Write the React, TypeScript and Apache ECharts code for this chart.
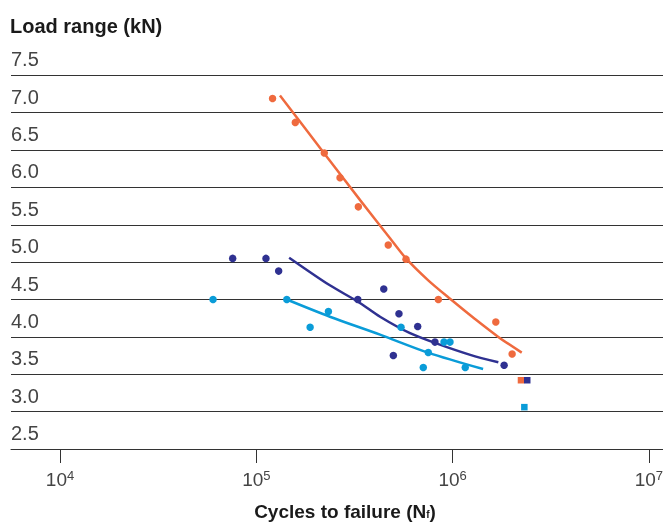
import React, { useEffect, useRef } from "react";
import * as echarts from "echarts";

// Cycles to failure (N) and load range (kN)
const orangeN = [1.21e5, 1.58e5, 2.22e5, 2.67e5, 3.31e5, 4.7e5, 5.79e5, 8.46e5, 1.66e6, 2.01e6];
const orangeLoad = [7.19, 6.87, 6.46, 6.13, 5.74, 5.23, 5.04, 4.5, 4.2, 3.77];
const navyN = [7.58e4, 1.12e5, 1.3e5, 3.29e5, 4.46e5, 5.33e5, 6.64e5, 4.99e5, 8.13e5, 1.83e6];
const navyLoad = [5.05, 5.05, 4.88, 4.5, 4.64, 4.31, 4.14, 3.75, 3.93, 3.62];
const cyanN = [6.02e4, 1.43e5, 2.33e5, 1.88e5, 5.46e5, 7.52e5, 7.09e5, 9.04e5, 9.7e5, 1.16e6];
const cyanLoad = [4.5, 4.5, 4.34, 4.13, 4.13, 3.79, 3.59, 3.93, 3.93, 3.59];

// fitted curves
const orangeFitN = [1.32e5, 2.21e5, 3.38e5, 4.8e5, 5.79e5, 7.49e5, 9.81e5, 1.3e6, 1.71e6, 2.25e6];
const orangeFitLoad = [7.23, 6.46, 5.83, 5.32, 5.05, 4.76, 4.5, 4.24, 4.0, 3.79];
const navyFitN = [1.47e5, 2.37e5, 3.3e5, 4.27e5, 6.07e5, 8.33e5, 1.23e6, 1.71e6];
const navyFitLoad = [5.06, 4.69, 4.47, 4.27, 4.05, 3.91, 3.76, 3.66];
const cyanFitN = [1.43e5, 2.37e5, 4.27e5, 7.49e5, 1.43e6];
const cyanFitLoad = [4.5, 4.27, 4.03, 3.79, 3.57];

// run-out squares
const orangeRunN = [2.23e6];
const orangeRunLoad = [3.42];
const navyRunN = [2.4e6];
const navyRunLoad = [3.42];
const cyanRunN = [2.32e6];
const cyanRunLoad = [3.06];

const xDecades = [4, 5, 6, 7];

const ORANGE = "#EF6A3E";
const NAVY = "#2F3191";
const CYAN = "#0A9CD8";
const FONT = '"Liberation Sans", Arial, Helvetica, sans-serif';

const pairs = (ns: number[], vs: number[]) => ns.map((n, i) => [Math.log10(n), vs[i]]);

export default function App() {
  const ref = useRef<HTMLDivElement>(null);
  useEffect(() => {
    if (!ref.current) return;
    const chart = echarts.init(ref.current, undefined, { renderer: "svg" });
    const scatter = (data: number[][], color: string, symbol = "circle", size = 7.5) => ({
      type: "scatter",
      data,
      symbol,
      symbolSize: size,
      itemStyle: { color, opacity: 1 },
      z: 3,
    });
    const fit = (data: number[][], color: string) => ({
      type: "line",
      data,
      smooth: 0.3,
      showSymbol: false,
      symbol: "none",
      lineStyle: { color, width: 2.5 },
      z: 2,
    });
    chart.setOption({
      animation: false,
      textStyle: { fontFamily: FONT },
      title: {
        text: "Load range (kN)",
        left: 10,
        top: 16,
        padding: 0,
        textStyle: { fontSize: 20, fontWeight: "bold", color: "#1a1a1a", fontFamily: FONT },
      },
      grid: { left: 11, right: 0, top: 75.3, bottom: 73, outerBoundsMode: "none", containLabel: false },
      xAxis: {
        type: "value",
        min: 3.7504,
        max: 7.0718,
        splitLine: { show: false },
        axisLine: { lineStyle: { color: "#333", width: 1 } },
        axisTick: { customValues: xDecades, length: 14, lineStyle: { color: "#333" } },
        axisLabel: {
          customValues: xDecades,
          margin: 20,
          formatter: (v: number) => `{n|10}{s|${Math.round(v)}}`,
          rich: {
            n: { fontSize: 19, color: "#444", fontFamily: FONT },
            s: { fontSize: 13, color: "#444", fontFamily: FONT, verticalAlign: "top", padding: [0, 0, 8, 0] },
          },
        },
      },
      yAxis: {
        type: "value",
        min: 2.5,
        max: 7.5,
        interval: 0.5,
        axisLine: { show: false },
        axisTick: { show: false },
        splitLine: { lineStyle: { color: "#333", width: 1 } },
        axisLabel: {
          inside: true,
          margin: 0,
          align: "left",
          verticalAlign: "bottom",
          fontSize: 20,
          color: "#444",
          padding: [0, 0, 6, 0],
          showMinLabel: true,
          showMaxLabel: true,
          formatter: (v: number) => v.toFixed(1),
        },
      },
      graphic: [
        {
          type: "text",
          x: 345,
          y: 511.5,
          style: {
            text: "{b|Cycles to failure (N}{sub|f}{b|)}",
            align: "center",
            verticalAlign: "middle",
            rich: {
              b: { fontSize: 19, fontWeight: "bold", fill: "#1a1a1a", fontFamily: FONT },
              sub: { fontSize: 10, fontWeight: "bold", fill: "#1a1a1a", fontFamily: FONT, padding: [5, 0, 0, 0] },
            },
          },
        },
      ],
      series: [
        fit(pairs(orangeFitN, orangeFitLoad), ORANGE),
        fit(pairs(navyFitN, navyFitLoad), NAVY),
        fit(pairs(cyanFitN, cyanFitLoad), CYAN),
        scatter(pairs(orangeN, orangeLoad), ORANGE),
        scatter(pairs(navyN, navyLoad), NAVY),
        scatter(pairs(cyanN, cyanLoad), CYAN),
        scatter(pairs(orangeRunN, orangeRunLoad), ORANGE, "rect", 6.5),
        scatter(pairs(navyRunN, navyRunLoad), NAVY, "rect", 6.5),
        scatter(pairs(cyanRunN, cyanRunLoad), CYAN, "rect", 6.5),
      ],
    });
    return () => chart.dispose();
  }, []);
  return <div ref={ref} style={{ position: "fixed", left: 0, top: 0, width: 663, height: 522 }} />;
}
